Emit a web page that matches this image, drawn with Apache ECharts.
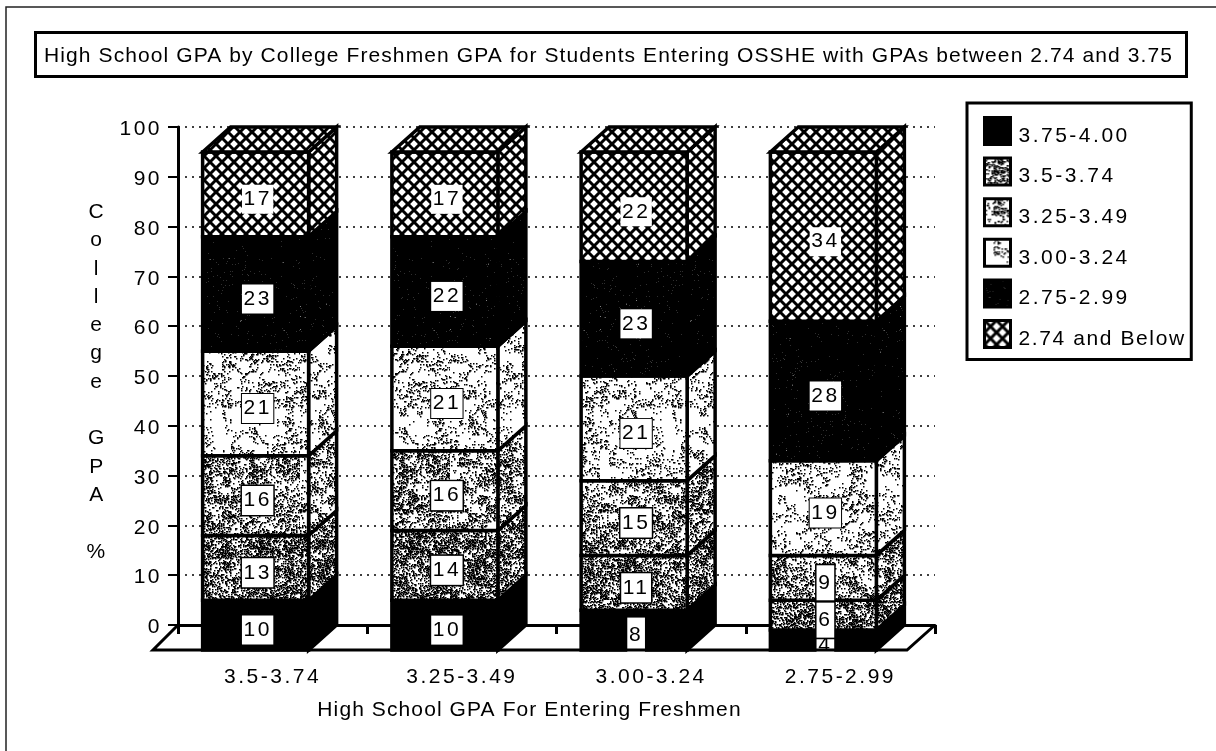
<!DOCTYPE html>
<html>
<head>
<meta charset="utf-8">
<title>High School GPA by College Freshmen GPA</title>
<script src="https://cdn.jsdelivr.net/npm/echarts@6/dist/echarts.min.js"></script>
<style>
  html, body { margin: 0; padding: 0; background: #fff; }
  #main { width: 1216px; height: 751px; }
</style>
</head>
<body>
<div id="main"></div>
<script>
// data
var categories = ['3.5-3.74', '3.25-3.49', '3.00-3.24', '2.75-2.99'];
var seriesNames = ['3.75-4.00', '3.5-3.74', '3.25-3.49', '3.00-3.24', '2.75-2.99', '2.74 and Below'];
var gpa375to400 = [10, 10, 8, 4];
var gpa350to374 = [13, 14, 11, 6];
var gpa325to349 = [16, 16, 15, 9];
var gpa300to324 = [21, 21, 21, 19];
var gpa275to299 = [23, 22, 23, 28];
var gpa274below = [17, 17, 22, 34];
var yTicks = [0, 100, 10];

var allValues = [gpa375to400, gpa350to374, gpa325to349, gpa300to324, gpa275to299, gpa274below];
var FONT = '"Liberation Sans", Arial, Helvetica, sans-serif';

// the scanned text is typed wide, zrender has no letter spacing so set it on the context
var baseFillText = CanvasRenderingContext2D.prototype.fillText;
CanvasRenderingContext2D.prototype.fillText = function (text, x, y, maxWidth) {
    var str = String(text);
    if (str.length > 20) {
        this.letterSpacing = '1.1px';
    } else if (/[a-z]/i.test(str)) {
        this.letterSpacing = '1.6px';
    } else {
        this.letterSpacing = '2.5px';
    }
    if (maxWidth === undefined) {
        baseFillText.call(this, text, x, y);
    } else {
        baseFillText.call(this, text, x, y, maxWidth);
    }
};

function noise(x, y) {
    var n = Math.sin(x * 12.9898 + y * 78.233) * 43758.5453;
    return n - Math.floor(n);
}

// photocopy-like speckle tile, darkness goes from 0 (white) to 1 (black)
function speckle(darkness, mottle) {
    var size = 150;
    var c = document.createElement('canvas');
    c.width = size;
    c.height = size;
    var ctx = c.getContext('2d');
    ctx.fillStyle = '#fff';
    ctx.fillRect(0, 0, size, size);
    ctx.fillStyle = '#000';
    for (var y = 0; y < size; y++) {
        for (var x = 0; x < size; x++) {
            var blob = noise(Math.floor(x / 9), Math.floor(y / 9)) - 0.5;
            if (noise(x, y) < darkness + blob * mottle) {
                ctx.fillRect(x, y, 1.5, 1.5);
            }
        }
    }
    return { image: c, repeat: 'repeat' };
}

function crosshatch() {
    var size = 12;
    var c = document.createElement('canvas');
    c.width = size;
    c.height = size;
    var ctx = c.getContext('2d');
    ctx.fillStyle = '#fff';
    ctx.fillRect(0, 0, size, size);
    ctx.strokeStyle = '#000';
    ctx.lineWidth = 3;
    ctx.beginPath();
    ctx.moveTo(-2, -2); ctx.lineTo(14, 14);
    ctx.moveTo(14, -2); ctx.lineTo(-2, 14);
    ctx.stroke();
    return { image: c, repeat: 'repeat' };
}

var fills = [
    '#000',
    speckle(0.34, 0.35),
    speckle(0.24, 0.4),
    speckle(0.09, 0.3),
    speckle(0.985, 0.04),
    crosshatch()
];
var labelBorders = [0, 1.5, 1.5, 1, 0, 0];

var depthX = 28, depthY = 25;

function boxItem(seriesIndex) {
    return function (params, api) {
        var cat = api.value(0);
        var base = api.value(1);
        var val = api.value(2);
        var barW = api.size([1, 0])[0] * 0.56;
        var center = api.coord([cat, base]);
        var left = center[0] - 17 - barW / 2;
        var right = left + barW;
        var yBot = center[1] + depthY;
        var yTop = api.coord([cat, base + val])[1] + depthY;
        var edge = { stroke: '#000', lineWidth: 3.5, fill: fills[seriesIndex], lineJoin: 'miter' };
        var children = [
            { type: 'polygon', shape: { points: [[right, yTop], [right + depthX, yTop - depthY], [right + depthX, yBot - depthY], [right, yBot]] }, style: edge },
            { type: 'rect', shape: { x: left, y: yTop, width: barW, height: yBot - yTop }, style: edge }
        ];
        if (seriesIndex === allValues.length - 1) {
            children.push({ type: 'polygon', shape: { points: [[left, yTop], [left + depthX, yTop - depthY], [right + depthX, yTop - depthY], [right, yTop]] }, style: edge });
        }
        var text = String(val);
        children.push({
            type: 'text',
            style: {
                text: text,
                x: left + barW / 2 + 2,
                y: (yTop + yBot) / 2 + 5,
                align: 'center',
                verticalAlign: 'middle',
                fill: '#000',
                fontSize: 21,
                fontFamily: FONT,
                backgroundColor: '#fff',
                padding: text.length > 1 ? [4, 4] : [7, 3],
                borderColor: '#000',
                borderWidth: labelBorders[seriesIndex]
            }
        });
        return { type: 'group', children: children };
    };
}

// left, front and right edges of the floor; the back edge is the x axis line
function floorItem(params, api) {
    var sys = params.coordSys;
    var yBack = sys.y + sys.height;
    return {
        type: 'polyline',
        shape: { points: [
            [sys.x, yBack],
            [sys.x - depthX + 3, yBack + depthY],
            [sys.x + sys.width - depthX, yBack + depthY],
            [sys.x + sys.width, yBack]
        ] },
        style: { stroke: '#000', lineWidth: 3, fill: 'none' }
    };
}

var series = [];
var running = categories.map(function () { return 0; });
allValues.forEach(function (values, s) {
    series.push({
        type: 'custom',
        name: seriesNames[s],
        renderItem: boxItem(s),
        encode: { x: 0, y: [1, 2] },
        data: values.map(function (v, i) {
            var row = [i, running[i], v];
            running[i] += v;
            return row;
        })
    });
});
series.push({ type: 'custom', name: 'floor', renderItem: floorItem, data: [[0]], silent: true });

var option = {
    animation: false,
    backgroundColor: '#fff',
    title: {
        text: 'High School GPA by College Freshmen GPA for Students Entering OSSHE with GPAs between 2.74 and 3.75',
        left: 35,
        top: 32,
        padding: [14, 123, 10, 9],
        borderColor: '#000',
        borderWidth: 3,
        textStyle: { fontFamily: FONT, fontSize: 21, fontWeight: 'normal', color: '#000' }
    },
    legend: {
        orient: 'vertical',
        left: 967,
        top: 103,
        padding: [13, 28, 10, 16],
        itemWidth: 26,
        itemHeight: 27,
        itemGap: 10.1,
        selectedMode: false,
        borderColor: '#000',
        borderWidth: 3,
        formatter: function (name) { return '{a|' + name + '}'; },
        textStyle: {
            rich: { a: { fontFamily: FONT, fontSize: 21, color: '#000', padding: [10, 0, 0, 3] } }
        },
        data: seriesNames.map(function (name, s) {
            return { name: name, icon: 'rect', itemStyle: { color: fills[s], borderColor: '#000', borderWidth: 3 } };
        })
    },
    grid: { left: 178, top: 127, width: 757, height: 498 },
    xAxis: {
        type: 'category',
        data: categories,
        name: 'High School GPA For Entering Freshmen',
        nameLocation: 'middle',
        nameGap: 75,
        nameTextStyle: { fontFamily: FONT, fontSize: 21, color: '#000', padding: [0, 54, 0, 0] },
        axisLine: { show: true, lineStyle: { color: '#000', width: 3 } },
        axisTick: { show: true, length: 9, lineStyle: { color: '#000', width: 3 } },
        axisLabel: { margin: 42, fontFamily: FONT, fontSize: 21, color: '#000' },
        splitLine: { show: false }
    },
    yAxis: {
        type: 'value',
        min: yTicks[0],
        max: yTicks[1],
        interval: yTicks[2],
        axisLine: { show: true, lineStyle: { color: '#000', width: 3 } },
        axisTick: { show: true, length: 10, lineStyle: { color: '#000', width: 2 } },
        axisLabel: {
            margin: 16,
            formatter: '{a|{value}}',
            rich: { a: { fontFamily: FONT, fontSize: 21, color: '#000', padding: [5, 0, 0, 0] } }
        },
        splitLine: { show: true, lineStyle: { color: '#000', width: 1.5, type: [2, 5] } }
    },
    graphic: [
        // the page frame of the scan, only left and top survive
        { type: 'polyline', silent: true, shape: { points: [[6, 751], [6, 7], [1216, 7]] }, style: { stroke: '#222', lineWidth: 1.5, fill: 'none' } },
        // stacked y axis title
        { type: 'text', silent: true, style: { text: 'C\no\nl\nl\ne\ng\ne\n\nG\nP\nA\n\n%', x: 97, y: 382, align: 'center', verticalAlign: 'middle', lineHeight: 28.3, fontSize: 21, fontFamily: FONT, fill: '#000' } }
    ],
    series: series
};

var chart = echarts.init(document.getElementById('main'));
chart.setOption(option);
</script>
</body>
</html>
